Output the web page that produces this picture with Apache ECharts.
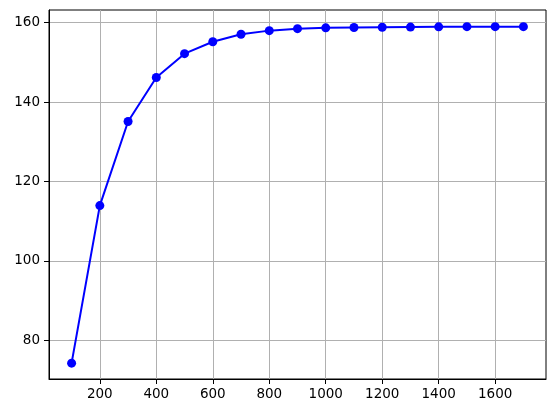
<!DOCTYPE html>
<html>
<head>
<meta charset="utf-8">
<script src="https://cdn.jsdelivr.net/npm/echarts@6/dist/echarts.min.js"></script>
<style>
  html, body { margin: 0; padding: 0; background: #fff; }
  #chart { width: 553px; height: 410px; }
</style>
</head>
<body>
<div id="chart"></div>
<script>
// data
const xValues = [100, 200, 300, 400, 500, 600, 700, 800, 900, 1000, 1100, 1200, 1300, 1400, 1500, 1600, 1700]
const yValues = [74.2, 113.9, 135.1, 146.2, 152.2, 155.2, 157.1, 158.0, 158.5, 158.7, 158.8, 158.85, 158.9, 158.95, 159.0, 159.0, 159.0]
const xTicks = [200, 400, 600, 800, 1000, 1200, 1400, 1600]
const yTicks = [80, 100, 120, 140, 160]

const font = 'DejaVu Sans'
const chart = echarts.init(document.getElementById('chart'))

const option = {
  animation: false,
  grid: {
    left: 49, right: 7, top: 10, bottom: 31,
    show: true,
    borderColor: '#000',
    borderWidth: 1
  },
  xAxis: {
    type: 'value',
    min: 20,
    max: 1780,
    axisLine: { show: true, lineStyle: { color: '#000', width: 1 } },
    axisTick: { show: true, customValues: xTicks, length: 5, lineStyle: { color: '#000' } },
    axisLabel: {
      customValues: xTicks, margin: 8, color: '#000', fontFamily: font, fontSize: 13.5,
      formatter: v => String(v)
    },
    splitLine: { show: true, lineStyle: { color: '#b0b0b0', width: 1 } }
  },
  yAxis: {
    type: 'value',
    min: 70.2,
    max: 163.2,
    axisLine: { show: true, lineStyle: { color: '#000', width: 1 } },
    axisTick: { show: true, customValues: yTicks, length: 5, lineStyle: { color: '#000' } },
    axisLabel: {
      customValues: yTicks, margin: 9, color: '#000', fontFamily: font, fontSize: 13.5,
      formatter: v => String(v)
    },
    splitLine: { show: true, lineStyle: { color: '#b0b0b0', width: 1 } }
  },
  series: [{
    type: 'line',
    data: xValues.map((x, i) => [x, yValues[i]]),
    symbol: 'circle',
    symbolSize: 9,
    itemStyle: { color: '#0000ff' },
    lineStyle: { color: '#0000ff', width: 2 }
  }]
}
chart.setOption(option)
</script>
</body>
</html>
